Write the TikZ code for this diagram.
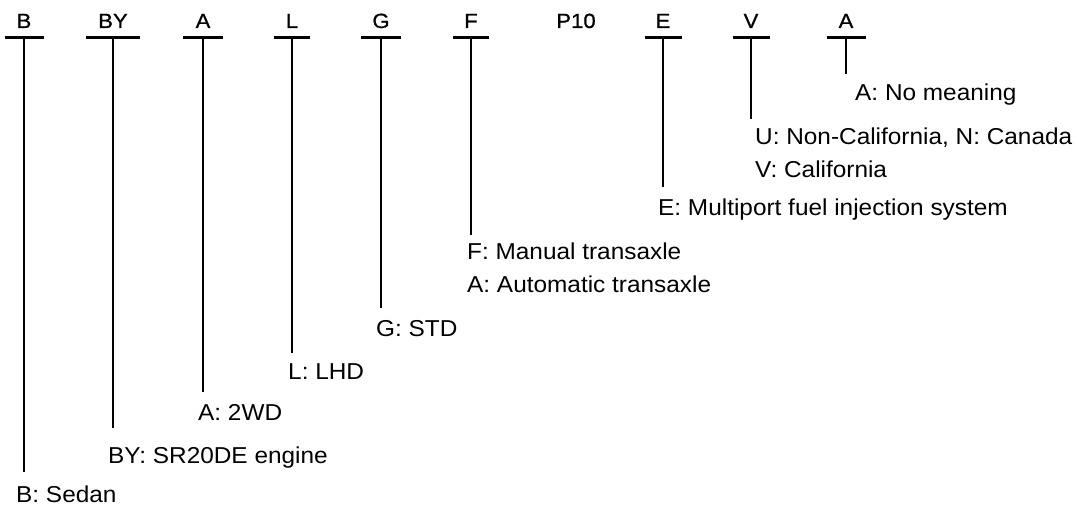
\documentclass[tikz,border=0pt]{standalone}
\usepackage{fontspec}
\setmainfont{Liberation Sans}[FakeStretch=1.06]
\newfontfamily\hdrfont{Liberation Sans}[FakeStretch=1.08,FakeBold=0.8]
\begin{document}
\begin{tikzpicture}[x=1pt,y=-1pt,
  hdr/.style={anchor=base,inner sep=0,font=\hdrfont\fontsize{20.5}{24}\selectfont},
  lbl/.style={anchor=base west,inner sep=0,font=\fontsize{23}{27}\selectfont},
  bar/.style={line width=3pt},
  stem/.style={line width=2pt}]
\useasboundingbox (0,0) rectangle (1077,510);
% headers
\node[hdr] (hB)  at (24,28)  {B};
\node[hdr] (hBY) at (113,28) {BY};
\node[hdr] (hA)  at (203,28) {A};
\node[hdr] (hL)  at (292,28) {L};
\node[hdr] (hG)  at (381,28) {G};
\node[hdr] (hF)  at (471,28) {F};
\node[hdr] (hP)  at (576,28) {P10};
\node[hdr] (hE)  at (663,28) {E};
\node[hdr] (hV)  at (751,28) {V};
\node[hdr] (hA2) at (846,28) {A};
% bar tops and stem ends
\coordinate (tB)  at (24,38);  \coordinate (eB)  at (24,472);
\coordinate (tBY) at (113,38); \coordinate (eBY) at (113,428);
\coordinate (tA)  at (203,38); \coordinate (eA)  at (203,392);
\coordinate (tL)  at (292,38); \coordinate (eL)  at (292,353);
\coordinate (tG)  at (381,38); \coordinate (eG)  at (381,308);
\coordinate (tF)  at (471,38); \coordinate (eF)  at (471,235);
\coordinate (tE)  at (663,38); \coordinate (eE)  at (663,187);
\coordinate (tV)  at (751,38); \coordinate (eV)  at (751,119);
\coordinate (tA2) at (846,38); \coordinate (eA2) at (846,74);
\foreach \c/\w in {B/19.5,BY/27,A/20,L/18,G/20,F/18,E/18.5,V/18.5,A2/19.5}{
  \draw[bar] ([xshift=-\w pt]t\c) -- ([xshift=\w pt]t\c);
  \draw[stem] (t\c) -- (e\c);
}
% labels
\node[lbl] (lB)  at (16,503)  {B: Sedan};
\node[lbl] (lBY) at (108,464) {BY: SR20DE engine};
\node[lbl] (lA)  at (198,421) {A: 2WD};
\node[lbl] (lL)  at (288,380) {L: LHD};
\node[lbl] (lG)  at (376,337) {G: STD};
\node[lbl] (lF1) at (467,260) {F: Manual transaxle};
\node[lbl] (lF2) at (467,293) {A: Automatic transaxle};
\node[lbl] (lE)  at (658,216) {E: Multiport fuel injection system};
\node[lbl] (lV1) at (755,145) {U: Non-California, N: Canada};
\node[lbl] (lV2) at (755,178) {V: California};
\node[lbl] (lA2) at (855,101) {A: No meaning};
\end{tikzpicture}
\end{document}
